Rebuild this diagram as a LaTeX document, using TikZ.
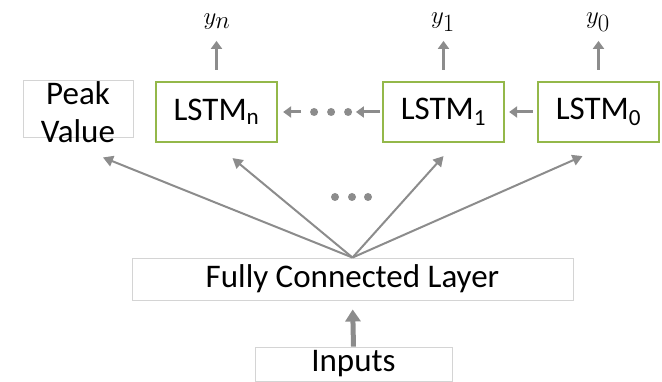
\documentclass[tikz,border=0pt]{standalone}
\usepackage{fontspec}
\setmainfont{Carlito}
\usetikzlibrary{arrows.meta,calc,positioning}
\definecolor{lstmgreen}{HTML}{94B84A}
\definecolor{arrowgray}{HTML}{8C8C8C}
\definecolor{boxgray}{HTML}{D4D4D4}
\tikzset{
  plainbox/.style={
    draw=boxgray,
    line width=0.9pt,
    align=center,
    inner sep=0pt,
    font=\fontsize{33}{36}\selectfont
  },
  lstmbox/.style={
    plainbox,
    draw=lstmgreen,
    line width=2.2pt,
    minimum width=121,
    minimum height=60
  },
  outlabel/.style={font=\fontsize{36}{38}\selectfont, inner sep=0pt},
  arrow/.style={-{Triangle[length=8pt,width=11pt]}, line width=3pt, draw=arrowgray},
  fanline/.style={-{Triangle[length=10pt,width=11pt]}, line width=2pt, draw=arrowgray},
  thickarrow/.style={-{Triangle[length=12pt,width=15pt]}, line width=5pt, draw=arrowgray},
  dot/.style={circle, fill=arrowgray, inner sep=0pt, minimum size=8pt}
}
\begin{document}
\begin{tikzpicture}[x=1pt,y=-1pt]
  \useasboundingbox (0,0) rectangle (662,382);
  % boxes
  \node[plainbox, minimum width=110, minimum height=57] (peak) at (78,108.5) {};
  \node[plainbox, draw=none, font=\fontsize{33}{38}\selectfont] (peaktext) at (78,112) {Peak\\Value};
  \node[lstmbox] (lstmn) at (216.5,112) {LSTM\textsubscript{n}};
  \node[lstmbox] (lstm1) at (443.5,112) {LSTM\textsubscript{1}};
  \node[lstmbox] (lstm0) at (598.5,112) {LSTM\textsubscript{0}};
  \node[plainbox, minimum width=441, minimum height=42] (fc) at (352.5,279) {Fully Connected Layer};
  \node[plainbox, minimum width=197, minimum height=34] (inputs) at (353.5,364) {Inputs};
  % outputs
  \node[outlabel] (yn) at (217,22) {$y_n$};
  \node[outlabel] (y1) at (443,22) {$y_1$};
  \node[outlabel] (y0) at (598,22) {$y_0$};
  \draw[arrow] ([yshift=11pt]lstmn.north) -- ([yshift=40pt]lstmn.north);
  \draw[arrow] ([yshift=11pt]lstm1.north) -- ([yshift=40pt]lstm1.north);
  \draw[arrow] ([yshift=11pt]lstm0.north) -- ([yshift=40pt]lstm0.north);
  % recurrent chain
  \coordinate (dotsR) at ($(lstm1.west)+(-26,0)$);
  \coordinate (dotsL) at ($(lstmn.east)+(23,0)$);
  \draw[arrow, shorten <=4pt, shorten >=4pt] (lstm0.west) -- (lstm1.east);
  \draw[arrow, shorten <=2pt] (lstm1.west) -- (dotsR);
  \draw[arrow, shorten >=5pt] (dotsL) -- (lstmn.east);
  \foreach \dx in {36,53,70}
    \node[dot] at ($(lstmn.east)+(\dx,0)$) {};
  % fan out of the fully connected layer
  \draw[fanline] (fc.north) -- ([xshift=25pt,yshift=-20pt]peak.south);
  \draw[fanline] (fc.north) -- ([xshift=16pt,yshift=-15pt]lstmn.south);
  \draw[fanline] (fc.north) -- ([yshift=-13pt]lstm1.south);
  \draw[fanline] (fc.north) -- ([xshift=-16pt,yshift=-13pt]lstm0.south);
  \foreach \x in {335,352,368}
    \node[dot] at (\x,197) {};
  % input
  \draw[thickarrow, shorten >=9pt] (inputs.north) -- (fc.south);
\end{tikzpicture}
\end{document}
